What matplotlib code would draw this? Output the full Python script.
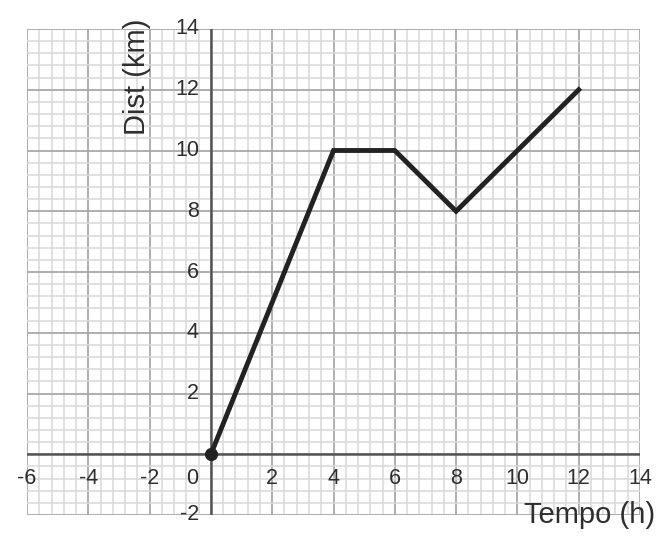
import numpy as np
import matplotlib
matplotlib.use('Agg')
import matplotlib.pyplot as plt
from matplotlib.ticker import MultipleLocator

plt.rcParams['font.family'] = ['Liberation Sans', 'DejaVu Sans']

# ── data ─────────────────────────────────────────────────────────────────────
tempo = [0, 4, 6, 8, 12]
dist = [0, 10, 10, 8, 12]

x_ticks = [-6, -4, -2, 0, 2, 4, 6, 8, 10, 12, 14]
y_ticks = [-2, 2, 4, 6, 8, 10, 12, 14]

TEXT = '#2e2e2e'

fig = plt.figure(figsize=(6.72, 5.49), dpi=100)
ax = fig.add_axes([27 / 672, 1 - 515 / 549, 613 / 672, 486 / 549])

ax.set_xlim(-6, 14)
ax.set_ylim(-2, 14)

# graph-paper grid
ax.xaxis.set_major_locator(MultipleLocator(2))
ax.yaxis.set_major_locator(MultipleLocator(2))
ax.xaxis.set_minor_locator(MultipleLocator(0.4))
ax.yaxis.set_minor_locator(MultipleLocator(0.4))
ax.grid(True, which='minor', color='#d8d8d8', linewidth=1.1)
ax.grid(True, which='major', color='#a8a8a8', linewidth=1.3)
ax.set_axisbelow(True)
ax.tick_params(which='both', length=0, labelbottom=False, labelleft=False)
for s in ax.spines.values():
    s.set_visible(False)

# main axes
ax.axhline(0, color='#555555', linewidth=1.8, zorder=2)
ax.axvline(0, color='#555555', linewidth=1.8, zorder=2)

# data
ax.plot(tempo, dist, color='#222222', linewidth=3.5, solid_joinstyle='miter', zorder=3)
ax.plot([tempo[0]], [dist[0]], 'o', color='#222222', markersize=8.5, zorder=4)

# tick labels (offsets in pixels)
for x in x_ticks:
    dx = -19 if x == 0 else 0
    ax.annotate(str(x), xy=(x, 0), xytext=(dx, -24), textcoords='offset pixels',
                ha='center', va='center', fontsize=15.5, color=TEXT,
                annotation_clip=False)
for y in y_ticks:
    ax.annotate(str(y), xy=(0, y), xytext=(-12, 0), textcoords='offset pixels',
                ha='right', va='center', fontsize=15.5, color=TEXT,
                annotation_clip=False)

# axis titles
fig.text(655 / 672, 1 - 515 / 549, 'Tempo (h)', ha='right', va='center',
         fontsize=21, color=TEXT)
fig.text(137 / 672, 1 - 77 / 549, 'Dist (km)', ha='center', va='center',
         rotation=90, fontsize=21, color=TEXT)

fig.savefig('out.png', dpi=100)
